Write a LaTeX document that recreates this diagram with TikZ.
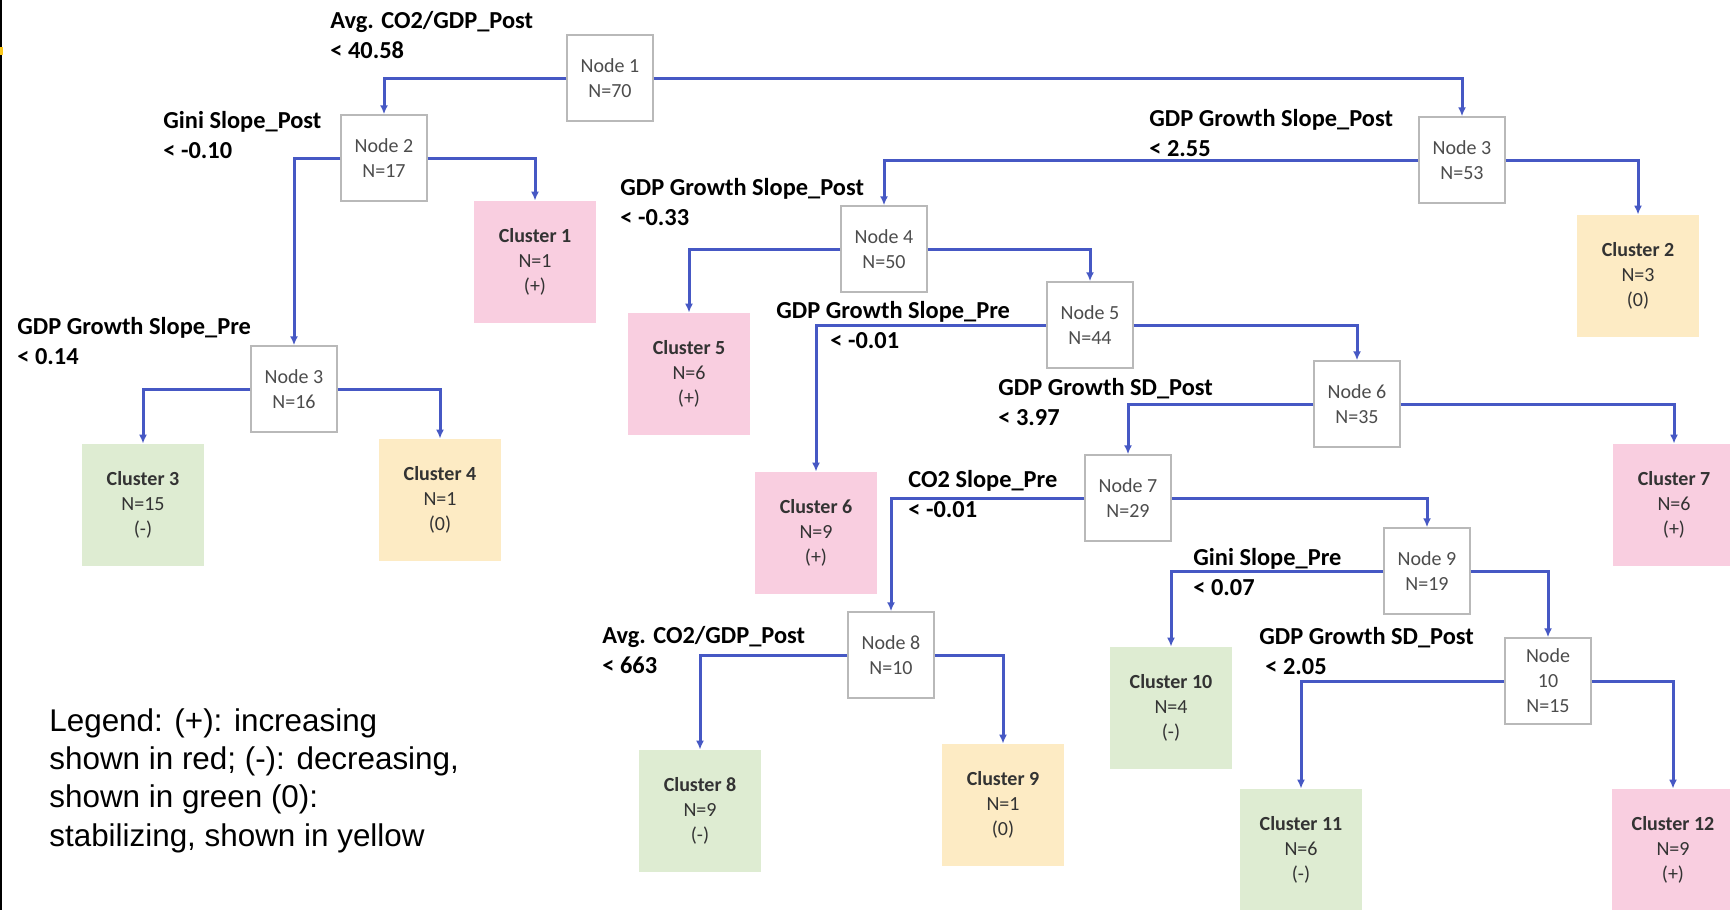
\documentclass[tikz,border=0pt]{standalone}
\usepackage{fontspec}
\setmainfont{Carlito}
\newfontfamily\legendfont{Liberation Sans}
\usetikzlibrary{arrows.meta}
\definecolor{linkblue}{RGB}{70,88,196}
\definecolor{pluspink}{RGB}{249,206,224}
\definecolor{minusgreen}{RGB}{222,236,210}
\definecolor{zeroyellow}{RGB}{253,235,196}
\definecolor{boxgray}{RGB}{185,185,185}
\definecolor{markyellow}{RGB}{250,200,30}
\tikzset{
  treenode/.style={draw=boxgray,line width=0.7pt,fill=white,minimum width=43pt,minimum height=43pt,inner sep=1pt,align=center,text=black!70,font=\fontsize{10}{12.5}\selectfont},
  leaf/.style={minimum width=61pt,minimum height=61pt,inner sep=1pt,align=center,text=black!80,font=\fontsize{10}{12.5}\selectfont},
  leafplus/.style={leaf,fill=pluspink},
  leafminus/.style={leaf,fill=minusgreen},
  leafzero/.style={leaf,fill=zeroyellow},
  splitlbl/.style={anchor=north west,inner sep=0pt,align=left,font=\bfseries\fontsize{12.2}{15}\selectfont},
  link/.style={draw=linkblue,line width=1.5pt,-{Latex[length=4.5pt,width=4pt]}}
}

\begin{document}
\begin{tikzpicture}[x=0.5pt,y=-0.5pt]
  \useasboundingbox (0,0) rectangle (1730,910);
  \fill[white] (0,0) rectangle (1730,910);
  \fill[black] (0,0) rectangle (1.5,910);
  \fill[markyellow] (0,47) rectangle (2.5,55);

  \coordinate (P1) at (610,78);
  \coordinate (P2) at (384,158);
  \coordinate (P3a) at (294,389);
  \coordinate (P3b) at (1462,160);
  \coordinate (P4) at (884,249);
  \coordinate (P5) at (1090,325);
  \coordinate (P6) at (1357,404);
  \coordinate (P7) at (1128,498);
  \coordinate (P8) at (891,655);
  \coordinate (P9) at (1427,571);
  \coordinate (P10) at (1548,681);

  \node[treenode] (n1) at (P1) {Node 1\\N=70};
  \node[treenode] (n2) at (P2) {Node 2\\N=17};
  \node[treenode] (n3a) at (P3a) {Node 3\\N=16};
  \node[treenode] (n3b) at (P3b) {Node 3\\N=53};
  \node[treenode] (n4) at (P4) {Node 4\\N=50};
  \node[treenode] (n5) at (P5) {Node 5\\N=44};
  \node[treenode] (n6) at (P6) {Node 6\\N=35};
  \node[treenode] (n7) at (P7) {Node 7\\N=29};
  \node[treenode] (n8) at (P8) {Node 8\\N=10};
  \node[treenode] (n9) at (P9) {Node 9\\N=19};
  \node[treenode] (n10) at (P10) {Node\\10\\N=15};

  \node[leafplus] (c1) at (535,262) {\textbf{Cluster 1}\\N=1\\(+)};
  \node[leafzero] (c2) at (1638,276) {\textbf{Cluster 2}\\N=3\\(0)};
  \node[leafminus] (c3) at (143,505) {\textbf{Cluster 3}\\N=15\\(-)};
  \node[leafzero] (c4) at (440,500) {\textbf{Cluster 4}\\N=1\\(0)};
  \node[leafplus] (c5) at (689,374) {\textbf{Cluster 5}\\N=6\\(+)};
  \node[leafplus] (c6) at (816,533) {\textbf{Cluster 6}\\N=9\\(+)};
  \node[leafplus] (c7) at (1674,505) {\textbf{Cluster 7}\\N=6\\(+)};
  \node[leafminus] (c8) at (700,811) {\textbf{Cluster 8}\\N=9\\(-)};
  \node[leafzero] (c9) at (1003,805) {\textbf{Cluster 9}\\N=1\\(0)};
  \node[leafminus] (c10) at (1171,708) {\textbf{Cluster 10}\\N=4\\(-)};
  \node[leafminus] (c11) at (1301,850) {\textbf{Cluster 11}\\N=6\\(-)};
  \node[leafplus] (c12) at (1673,850) {\textbf{Cluster 12}\\N=9\\(+)};

  \draw[link] (n1.west) -| (n2.north);
  \draw[link] (n1.east) -| (n3b.north);
  \draw[link] (n2.west) -| (n3a.north);
  \draw[link] (n2.east) -| (c1.north);
  \draw[link] (n3a.west) -| (c3.north);
  \draw[link] (n3a.east) -| (c4.north);
  \draw[link] (n3b.west) -| (n4.north);
  \draw[link] (n3b.east) -| (c2.north);
  \draw[link] (n4.west) -| (c5.north);
  \draw[link] (n4.east) -| (n5.north);
  \draw[link] (n5.west) -| (c6.north);
  \draw[link] (n5.east) -| (n6.north);
  \draw[link] (n6.west) -| (n7.north);
  \draw[link] (n6.east) -| (c7.north);
  \draw[link] (n7.west) -| (n8.north);
  \draw[link] (n7.east) -| (n9.north);
  \draw[link] (n8.west) -| (c8.north);
  \draw[link] (n8.east) -| (c9.north);
  \draw[link] (n9.west) -| (c10.north);
  \draw[link] (n9.east) -| (n10.north);
  \draw[link] (n10.west) -| (c11.north);
  \draw[link] (n10.east) -| (c12.north);

  \node[splitlbl] (lbl1) at (330,11) {Avg. CO2/GDP\_Post\\< 40.58};
  \node[splitlbl] (lbl2) at (163,111) {Gini Slope\_Post\\< -0.10};
  \node[splitlbl] (lbl3) at (17,317) {GDP Growth Slope\_Pre\\< 0.14};
  \node[splitlbl] (lbl4) at (1149,109) {GDP Growth Slope\_Post\\< 2.55};
  \node[splitlbl] (lbl5) at (620,178) {GDP Growth Slope\_Post\\< -0.33};
  \node[splitlbl] (lbl6) at (776,301) {GDP Growth Slope\_Pre\\\hspace{27pt}< -0.01};
  \node[splitlbl] (lbl7) at (998,378) {GDP Growth SD\_Post\\< 3.97};
  \node[splitlbl] (lbl8) at (908,470) {CO2 Slope\_Pre\\< -0.01};
  \node[splitlbl] (lbl9) at (602,626) {Avg. CO2/GDP\_Post\\< 663};
  \node[splitlbl] (lbl10) at (1193,548) {Gini Slope\_Pre\\< 0.07};
  \node[splitlbl] (lbl11) at (1259,627) {GDP Growth SD\_Post\\\hspace{3pt}< 2.05};

  \node[anchor=north west,inner sep=0pt,align=left,font=\legendfont\fontsize{15.7}{19.2}\selectfont] (legend) at (49,708)
    {Legend: (+): increasing\\shown in red; (-): decreasing,\\shown in green (0):\\stabilizing, shown in yellow};
\end{tikzpicture}
\end{document}
